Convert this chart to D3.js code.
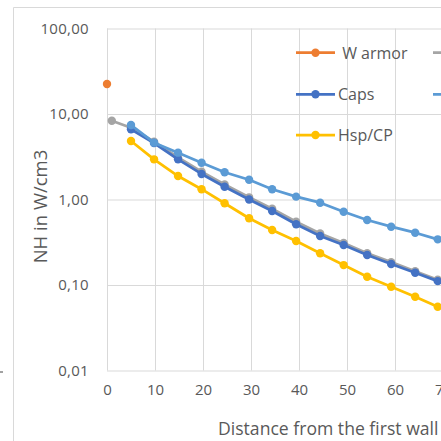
<!DOCTYPE html>
<html>
<head>
<meta charset="utf-8">
<script src="https://cdn.jsdelivr.net/npm/d3@7"></script>
<style>
html, body { margin: 0; padding: 0; background: #fff; }
svg { display: block; font-family: "Open Sans", "Noto Sans", sans-serif; }
</style>
</head>
<body>
<svg id="chart" width="441" height="441"></svg>
<script>
// ---- data ----
const xTicks = [0, 10, 20, 30, 40, 50, 60, 70];
const yTicks = [0.01, 0.1, 1, 10, 100];
const xStd = [5, 9.8, 14.8, 19.7, 24.5, 29.6, 34.4, 39.4, 44.4, 49.3, 54.2, 59.2, 64.2, 68.9];

const wArmorX = [0];
const wArmorY = [22.4];

const grayX = [1, 5, 9.8, 14.8, 19.7, 24.5, 29.6, 34.4, 39.4, 44.4, 49.3, 54.2, 59.2, 64.2, 68.9];
const grayY = [8.35, 6.9, 4.75, 3.1, 2.12, 1.5, 1.06, 0.78, 0.55, 0.4, 0.31, 0.235, 0.185, 0.145, 0.115];

const capsY = [6.62, 4.58, 2.95, 1.99, 1.41, 1.0, 0.734, 0.513, 0.374, 0.294, 0.224, 0.176, 0.139, 0.111];
const lightBlueY = [7.44, 4.62, 3.53, 2.69, 2.08, 1.70, 1.32, 1.08, 0.918, 0.72, 0.576, 0.481, 0.409, 0.342];
const hspY = [4.83, 2.95, 1.88, 1.32, 0.903, 0.603, 0.44, 0.327, 0.235, 0.171, 0.125, 0.0955, 0.073, 0.0557];

const seriesNames = [" W armor", "", "Caps", "", "Hsp/CP"];
const seriesColors = ["#ED7D31", "#A5A5A5", "#4472C4", "#5B9BD5", "#FFC000"];
const seriesX = [wArmorX, grayX, xStd, xStd, xStd];
const seriesY = [wArmorY, grayY, capsY, lightBlueY, hspY];

const xTitle = "Distance from the first wall";
const yTitle = "NH in W/cm3";

// ---- layout ----
const svg = d3.select("#chart");
const plotLeft = 107, plotTop = 28.5, plotBottom = 370.5;
const x = d3.scaleLinear().domain([0, 80]).range([plotLeft, plotLeft + 4.8 * 80]);
const y = d3.scaleLog().domain([0.01, 100]).range([plotBottom, plotTop]);
const gridColor = "#d9d9d9";
const textColor = "#595959";

// outer chart frame (partially visible)
svg.append("path")
  .attr("d", "M13.5,441 L13.5,7.5 L441,7.5")
  .attr("fill", "none").attr("stroke", gridColor).attr("stroke-width", 1);

// small artifact on the left edge
svg.append("line").attr("x1", 0).attr("x2", 3).attr("y1", 372).attr("y2", 372)
  .attr("stroke", "#444").attr("stroke-width", 1);

// gridlines
const xGrid = svg.append("g").attr("transform", `translate(0,${plotBottom})`)
  .call(d3.axisBottom(x).tickValues(xTicks).tickSize(-(plotBottom - plotTop)).tickFormat(""));
xGrid.select(".domain").remove();
xGrid.selectAll("line").attr("stroke", gridColor);

const yGrid = svg.append("g").attr("transform", `translate(${plotLeft},0)`)
  .call(d3.axisLeft(y).tickValues(yTicks).tickSize(-(x.range()[1] - plotLeft)).tickFormat(""));
yGrid.select(".domain").remove();
yGrid.selectAll("line").attr("stroke", gridColor);

// tick labels
const fmt = v => d3.format(".2f")(v).replace(".", ",");
const yAxis = svg.append("g").attr("transform", `translate(${plotLeft},0)`)
  .call(d3.axisLeft(y).tickValues(yTicks).tickSize(0).tickPadding(18).tickFormat(fmt));
yAxis.select(".domain").remove();
yAxis.selectAll("text")
  .attr("fill", textColor).style("font-size", "15px").style("letter-spacing", "0.3px")
  .style("font-family", "'Open Sans', sans-serif");

const xAxis = svg.append("g").attr("transform", `translate(0,${plotBottom})`)
  .call(d3.axisBottom(x).tickValues(xTicks).tickSize(0).tickPadding(14).tickFormat(d3.format("d")));
xAxis.select(".domain").remove();
xAxis.selectAll("text")
  .attr("fill", textColor).style("font-size", "15px")
  .style("font-family", "'Open Sans', sans-serif");

// axis titles
svg.append("text").attr("x", 218).attr("y", 435)
  .attr("fill", textColor).style("font-size", "17.6px").text(xTitle);
svg.append("text")
  .attr("transform", "translate(47,206.5) rotate(-90)")
  .attr("text-anchor", "middle")
  .attr("fill", textColor).style("font-size", "18.5px").text(yTitle);

// series
const line = d3.line().x(d => x(d[0])).y(d => y(d[1]));
seriesNames.forEach((name, i) => {
  const pts = seriesX[i].map((xv, j) => [xv, seriesY[i][j]]);
  const g = svg.append("g");
  if (pts.length > 1) {
    g.append("path").datum(pts).attr("d", line)
      .attr("fill", "none").attr("stroke", seriesColors[i])
      .attr("stroke-width", 2.75).attr("stroke-linejoin", "round");
  }
  g.selectAll("circle").data(pts).join("circle")
    .attr("cx", d => x(d[0])).attr("cy", d => y(d[1])).attr("r", 4.2)
    .attr("fill", seriesColors[i]);
});

// legend
const legendPos = [[296, 52.7], [433, 52.7], [296, 94.3], [433, 94.3], [296, 135]];
seriesNames.forEach((name, i) => {
  const [lx, ly] = legendPos[i];
  const g = svg.append("g").attr("transform", `translate(${lx},${ly})`);
  g.append("line").attr("x1", 0).attr("x2", 39).attr("y1", 0).attr("y2", 0)
    .attr("stroke", seriesColors[i]).attr("stroke-width", 2.75);
  g.append("circle").attr("cx", 19.5).attr("cy", 0).attr("r", 4.2).attr("fill", seriesColors[i]);
  if (name) {
    g.append("text").attr("x", 42).attr("y", 6)
      .attr("fill", textColor).style("font-size", "16px").style("white-space", "pre")
      .text(name);
  }
});
</script>
</body>
</html>
